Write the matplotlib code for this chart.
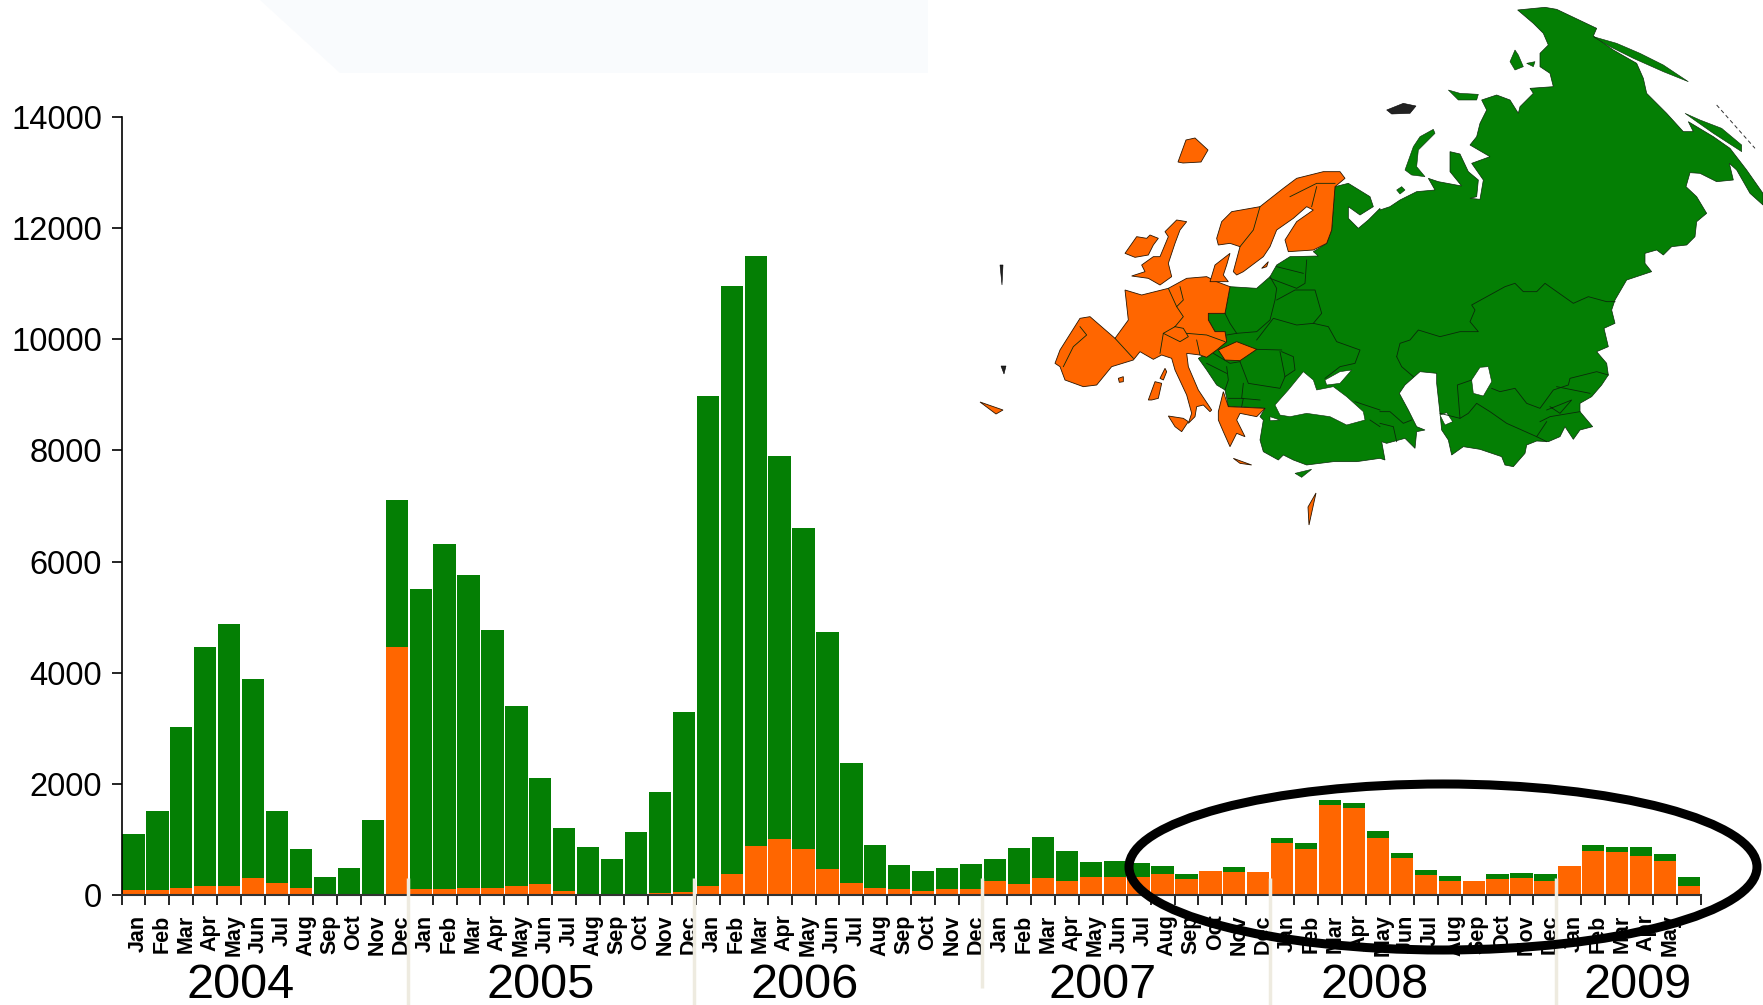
import matplotlib
matplotlib.use('Agg')
import matplotlib.pyplot as plt
from matplotlib.patches import Ellipse, Polygon

plt.rcParams['font.family'] = ['Liberation Sans', 'DejaVu Sans']

W, H = 1763, 1005
GREEN = '#047F04'
ORANGE = '#FF6600'
SEP = '#EEEBE0'
COAST = '#0A2A0A'

months = ['Jan', 'Feb', 'Mar', 'Apr', 'May', 'Jun', 'Jul', 'Aug', 'Sep', 'Oct', 'Nov', 'Dec']
# the last bar has no label in the original
month_labels = months * 5 + months[:5] + ['']
y_ticks = [0, 2000, 4000, 6000, 8000, 10000, 12000, 14000]

# top of each stack
total = [1100, 1520, 3020, 4460, 4870, 3880, 1520, 820, 320, 490, 1350, 7100,
         5510, 6320, 5760, 4770, 3400, 2100, 1200, 870, 650, 1130, 1850, 3300,
         8980, 10960, 11500, 7900, 6600, 4740, 2380, 900, 540, 430, 490, 550,
         650, 850, 1040, 790, 600, 620, 580, 530, 380, 430, 510, 410,
         1030, 930, 1710, 1650, 1150, 760, 450, 350, 250, 370, 390, 370,
         520, 900, 870, 870, 730, 320]
orange = [90, 90, 130, 160, 160, 300, 220, 130, 0, 0, 20, 4470,
          110, 110, 130, 130, 160, 190, 80, 0, 0, 0, 40, 50,
          170, 380, 890, 1000, 830, 470, 220, 130, 110, 70, 110, 110,
          250, 200, 310, 250, 330, 330, 330, 380, 280, 430, 410, 410,
          940, 830, 1620, 1560, 1030, 670, 360, 250, 250, 280, 310, 250,
          520, 800, 770, 710, 620, 160]
green = [t - o for t, o in zip(total, orange)]

years = ['2004', '2005', '2006', '2007', '2008', '2009']
year_x = [241, 541, 805, 1103, 1375, 1638]
sep_x = [408, 694, 982, 1270, 1556]
sep_top = [878, 878, 878, 878, 878]
sep_bottom = [1005, 1005, 988, 1005, 1005]

# map outlines, traced from 3x crops of the picture. a_ crop starts at (1040,150),
# b_ at (1380,0), c_ at (1380,240)
b_east = [(413, 30), (495, 22), (530, 28), (650, 85), (640, 108), (700, 150), (770, 190), (790, 235), (800, 280),
          (860, 340), (910, 395), (940, 395), (925, 365), (1000, 410), (1050, 445), (1100, 510), (1149, 580),
          (1149, 615), (1110, 580), (1070, 510), (1048, 490), (1060, 540), (1010, 545), (960, 520), (930, 518),
          (918, 560), (950, 590), (980, 640), (950, 665), (945, 710), (920, 735), (875, 740), (850, 765), (830, 750),
          (795, 760), (795, 790), (815, 815), (770, 830), (740, 840), (705, 900), (695, 930), (705, 970), (672, 985),
          (685, 1040), (650, 1055), (680, 1090), (685, 1125)]
c_south = [(665, 435), (635, 470), (600, 490), (600, 515), (638, 560), (600, 570), (580, 598), (555, 560), (540, 590),
           (505, 605), (470, 603), (440, 615), (435, 640), (400, 680), (375, 675), (365, 650), (300, 628), (250, 620),
           (215, 645), (205, 600), (185, 570), (180, 520), (170, 430), (170, 400), (120, 395), (75, 435), (58, 460),
           (85, 510), (110, 560), (135, 570), (110, 575), (105, 625), (75, 595), (20, 610), (5, 605), (15, 660)]
a_west = [(1020, 925), (950, 935), (880, 935), (800, 945), (760, 930), (730, 915), (715, 930), (670, 905), (660, 870),
          (670, 810), (660, 800), (675, 775), (600, 770), (565, 772), (560, 745), (555, 720), (530, 705), (500, 660),
          (475, 625), (510, 605), (530, 595), (560, 575), (555, 545), (525, 545), (505, 510), (505, 490), (555, 490),
          (570, 410), (650, 415), (690, 380), (710, 345), (750, 320), (835, 318), (820, 305), (860, 280), (875, 240),
          (885, 110), (925, 100), (990, 140), (1000, 170), (960, 195), (925, 170), (925, 205), (955, 235), (985, 210),
          (1020, 175)]
b_north = [(0, 630), (30, 620), (60, 600), (110, 575), (165, 570), (145, 535), (175, 545), (245, 558), (210, 515),
           (210, 455), (240, 462), (265, 515), (295, 540), (290, 590), (270, 595), (300, 598), (310, 540), (275, 490),
           (330, 470), (270, 435), (290, 410), (300, 370), (320, 330), (305, 300), (350, 285), (390, 300), (415, 340),
           (420, 320), (460, 280), (450, 265), (520, 260), (510, 220), (480, 200), (480, 160), (505, 135), (490, 100),
           (460, 70)]
a_black_sea = [(705, 765), (745, 720), (790, 665), (820, 690), (830, 720), (880, 710), (920, 740), (970, 785), (975, 810),
               (920, 825), (870, 800), (800, 790), (750, 800), (720, 795)]
a_azov = [(855, 690), (900, 665), (935, 660), (900, 700), (860, 705)]
a_marmara = [(690, 800), (720, 810), (690, 812)]
c_aral = [(275, 420), (300, 382), (325, 380), (335, 425), (310, 468), (280, 460)]
c_kara_bogaz = [(180, 525), (200, 518), (218, 545), (195, 555)]
b_green_islands = [[(75, 510), (100, 440), (120, 410), (160, 388), (165, 400), (115, 450), (110, 500), (135, 530), (95, 525)],
                   [(205, 270), (240, 280), (295, 283), (290, 300), (235, 300)],
                   [(50, 570), (65, 560), (75, 570), (60, 582)],
                   [(390, 185), (405, 150), (415, 165), (430, 200), (405, 210)],
                   [(440, 190), (465, 185), (460, 200)],
                   [(640, 110), (710, 130), (780, 160), (850, 195), (925, 245), (850, 215), (760, 175), (690, 140)],
                   [(915, 340), (960, 360), (1025, 385), (1085, 435), (1085, 455), (1000, 400), (950, 365)]]
b_dark_islands = [[(20, 330), (70, 310), (108, 318), (90, 340), (35, 342)]]
b_kuril = [(1010, 315), (1125, 445)]
a_cyprus = [(765, 970), (815, 958), (785, 982)]
a_orange = [[(45, 640), (60, 600), (120, 505), (150, 500), (225, 565), (265, 510), (255, 420), (305, 435), (385, 415),
             (440, 385), (500, 380), (530, 395), (570, 410), (555, 490), (505, 490), (505, 510), (525, 545), (555, 545),
             (560, 575), (530, 600), (500, 622), (480, 615), (440, 610), (445, 650), (475, 720), (515, 780), (510, 785),
             (490, 765), (470, 770), (465, 800), (445, 820), (455, 790), (440, 735), (405, 660), (395, 625), (365, 615),
             (340, 628), (300, 605), (280, 630), (215, 650), (170, 705), (130, 710), (75, 690), (60, 650)],
            [(535, 600), (590, 575), (650, 598), (600, 632), (555, 630)],
            [(385, 798), (430, 805), (445, 815), (425, 845), (405, 830)],
            [(325, 750), (345, 695), (365, 700), (355, 745), (335, 750)],
            [(360, 685), (375, 655), (380, 665), (370, 690)],
            [(235, 685), (250, 680), (250, 695), (238, 697)],
            [(275, 378), (315, 365), (305, 345), (340, 320), (360, 320), (385, 260), (375, 245), (410, 210), (440, 215),
             (420, 240), (405, 280), (385, 340), (395, 380), (360, 405), (325, 385)],
            [(255, 310), (290, 260), (320, 265), (330, 255), (355, 265), (340, 285), (325, 315), (285, 322)],
            [(530, 265), (545, 215), (575, 185), (660, 170), (730, 115), (770, 85), (850, 65), (900, 65), (915, 85),
             (885, 110), (875, 240), (860, 280), (820, 300), (745, 305), (735, 270), (770, 215), (820, 180), (800, 170),
             (760, 205), (710, 240), (690, 290), (670, 320), (610, 365), (590, 375), (580, 365), (600, 290), (570, 280),
             (535, 285)],
            [(510, 395), (525, 345), (570, 310), (560, 345), (550, 375), (565, 395)],
            [(665, 355), (685, 335), (680, 350)],
            [(535, 785), (550, 725), (565, 770), (675, 775), (650, 800), (600, 790), (590, 810), (615, 860), (590, 850),
             (570, 890), (550, 845), (535, 810)],
            [(580, 925), (635, 945), (600, 940)]]
# these lie outside the crops, figure pixels
far_orange = [[(1178, 162), (1186, 140), (1195, 138), (1208, 150), (1201, 162), (1183, 163)],
              [(1308, 507), (1316, 493), (1309, 525)],
              [(980, 402), (1003, 410), (996, 414)]]
far_dark = [[(1000, 265), (1003, 265), (1002, 285)], [(1001, 366), (1006, 366), (1004, 374)]]
a_borders = [[(120, 530), (140, 555), (100, 590), (70, 650)],
             [(225, 565), (280, 625)],
             [(385, 415), (410, 470), (430, 500), (405, 530)],
             [(405, 530), (370, 550), (360, 610)],
             [(370, 550), (420, 575), (445, 560), (430, 535), (405, 530)],
             [(440, 550), (500, 555), (555, 575)],
             [(470, 570), (480, 615)],
             [(410, 470), (430, 450), (420, 410)],
             [(660, 170), (640, 240), (600, 290)],
             [(830, 110), (815, 170)],
             [(750, 140), (830, 100), (885, 100)],
             [(555, 490), (570, 520), (590, 550), (650, 545), (690, 510), (705, 450), (710, 415), (690, 380)],
             [(560, 555), (590, 550)],
             [(710, 450), (765, 420), (825, 420), (845, 490), (820, 520), (770, 525), (700, 505), (650, 570)],
             [(820, 520), (865, 530), (890, 575), (960, 600), (945, 640), (900, 650), (855, 685)],
             [(725, 605), (760, 620), (765, 660), (735, 680), (720, 605)],
             [(650, 598), (725, 600)],
             [(600, 635), (625, 700), (720, 715), (735, 680)],
             [(610, 700), (605, 745), (660, 750)],
             [(565, 745), (610, 745), (605, 770)],
             [(560, 650), (565, 690), (555, 720)],
             [(520, 610), (570, 640), (600, 635)],
             [(500, 640), (560, 670)],
             [(690, 385), (770, 415), (795, 400), (800, 330)],
             [(710, 350), (790, 370)],
             [(945, 755), (1020, 780)],
             [(990, 810), (1020, 830)]]
c_borders = [[(50, 350), (60, 310), (90, 300), (115, 270), (180, 290), (240, 275), (295, 275), (270, 245), (285, 210),
              (275, 195), (375, 140), (405, 130), (430, 155), (470, 155), (495, 130), (580, 190), (625, 170), (680, 185),
              (705, 185)],
             [(50, 350), (65, 380), (100, 410)],
             [(275, 420), (232, 435), (240, 535), (180, 520)],
             [(240, 535), (265, 520), (290, 490), (330, 515), (380, 550), (470, 590), (500, 605)],
             [(335, 445), (360, 455), (405, 445), (440, 490), (480, 505), (520, 450), (565, 435), (570, 415), (650, 395),
              (685, 405)],
             [(530, 440), (630, 460)],
             [(480, 545), (510, 530), (600, 515)],
             [(500, 510), (575, 480), (540, 520), (510, 500)],
             [(470, 590), (500, 545)],
             [(0, 515), (30, 515), (70, 550), (95, 540)],
             [(0, 550), (40, 560), (50, 605)]]


def from_crop(points, ox, oy):
    return [(ox + x / 3, oy + y / 3) for x, y in points]


def a_xy(points):
    return from_crop(points, 1040, 150)


def b_xy(points):
    return from_crop(points, 1380, 0)


def c_xy(points):
    return from_crop(points, 1380, 240)


fig = plt.figure(figsize=(W / 100, H / 100), dpi=100, facecolor='white')

# faint watermark of the slide behind the chart
fig.add_artist(Polygon([(260 / W, 1), (928 / W, 1), (928 / W, 1 - 73 / H), (340 / W, 1 - 73 / H)], closed=True,
                       facecolor='#F9FBFD', edgecolor='none', transform=fig.transFigure, zorder=-1))

ax = fig.add_axes([121.5 / W, 1 - 895 / H, (1701 - 121.5) / W, (895 - 117) / H], facecolor='none')

pos = [i + 0.5 for i in range(len(total))]
ax.bar(pos, orange, width=0.93, color=ORANGE, linewidth=0)
ax.bar(pos, green, bottom=orange, width=0.93, color=GREEN, linewidth=0)

ax.set_xlim(0, len(total))
ax.set_ylim(0, 14000)
ax.spines['top'].set_visible(False)
ax.spines['right'].set_visible(False)
ax.spines['left'].set_linewidth(1.2)
ax.spines['bottom'].set_linewidth(1.5)
ax.spines['bottom'].set_color('#333333')
ax.set_yticks(y_ticks)
ax.set_xticks(range(len(total) + 1))
ax.set_xticklabels([])
ax.set_xticks([p + 0.2 for p in pos], minor=True)
ax.set_xticklabels(month_labels, minor=True, rotation=90, fontsize=15.5, fontweight='bold', va='top', ha='center')
ax.tick_params(axis='y', labelsize=23.5, length=7, width=1.2, pad=7)
ax.tick_params(axis='x', which='major', length=7, width=1.2)
ax.tick_params(axis='x', which='minor', length=0, pad=14)

# overlay in pixel coordinates for the map, separators, ellipse and year labels
ov = fig.add_axes([0, 0, 1, 1], facecolor='none')
ov.set_xlim(0, W)
ov.set_ylim(H, 0)
ov.axis('off')

land = b_xy(b_east) + c_xy(c_south) + a_xy(a_west) + b_xy(b_north)
ov.add_patch(Polygon(land, closed=True, facecolor=GREEN, edgecolor=COAST, linewidth=0.5, zorder=1))
for lake in [a_xy(a_black_sea), a_xy(a_azov), a_xy(a_marmara), c_xy(c_aral), c_xy(c_kara_bogaz)]:
    ov.add_patch(Polygon(lake, closed=True, facecolor='white', edgecolor=COAST, linewidth=0.4, zorder=2))
for shape in [b_xy(s) for s in b_green_islands] + [a_xy(a_cyprus)]:
    ov.add_patch(Polygon(shape, closed=True, facecolor=GREEN, edgecolor=COAST, linewidth=0.4, zorder=2))
for shape in [b_xy(s) for s in b_dark_islands] + far_dark:
    ov.add_patch(Polygon(shape, closed=True, facecolor='#222222', edgecolor='black', linewidth=0.4, zorder=2))
kx, ky = zip(*b_xy(b_kuril))
ov.plot(kx, ky, color='#333333', linewidth=0.7, linestyle=(0, (4, 3)), zorder=2)
for shape in [a_xy(s) for s in a_orange] + far_orange:
    ov.add_patch(Polygon(shape, closed=True, facecolor=ORANGE, edgecolor='#2A1500', linewidth=0.6, zorder=3))
for line in [a_xy(s) for s in a_borders] + [c_xy(s) for s in c_borders]:
    xs, ys = zip(*line)
    ov.plot(xs, ys, color=COAST, linewidth=0.6, zorder=4)

for x, top, bottom in zip(sep_x, sep_top, sep_bottom):
    ov.plot([x, x], [top, bottom], color=SEP, linewidth=2.5, solid_capstyle='butt', zorder=5)

for x, label in zip(year_x, years):
    ov.text(x, 998, label, fontsize=35, ha='center', va='baseline', color='black', zorder=6)

ov.add_patch(Ellipse((1443, 867), 628, 166, facecolor='none', edgecolor='black', linewidth=6.5, zorder=7))

fig.savefig('out.png', dpi=100)
